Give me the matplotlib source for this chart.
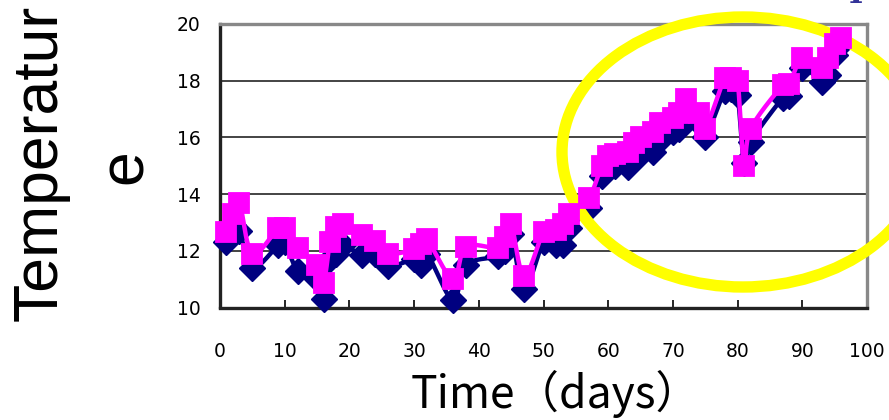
import numpy as np
import matplotlib
matplotlib.use("Agg")
import matplotlib.pyplot as plt
from matplotlib.patches import Ellipse
from matplotlib.transforms import IdentityTransform

# Measurement days and the two temperature series
days = [1, 2, 3, 5, 9, 10, 12, 15, 16, 17, 18, 19, 22, 24, 26, 30, 31, 32,
        36, 38, 43, 44, 45, 47, 50, 52, 53, 54, 57, 59, 60, 61, 63, 64, 65,
        67, 68, 70, 71, 72, 74, 75, 78, 79, 80, 81, 82, 87, 88, 90, 93, 94,
        95, 96]
temp_squares = [12.65, 13.3, 13.7, 11.9, 12.8, 12.8, 12.1, 11.5, 10.85, 12.3,
                12.85, 12.95, 12.55, 12.35, 11.9, 12.05, 12.25, 12.4, 11.0,
                12.15, 12.1, 12.5, 12.95, 11.1, 12.65, 12.75, 12.95, 13.3,
                13.85, 15.0, 15.35, 15.4, 15.5, 15.8, 16.0, 16.2, 16.5, 16.7,
                16.85, 17.35, 16.85, 16.3, 18.1, 18.1, 18.0, 15.0, 16.3, 17.85,
                17.9, 18.8, 18.45, 18.8, 19.3, 19.5]
temp_diamonds = [12.3, 12.9, 12.7, 11.4, 12.2, 12.3, 11.3, 11.0, 10.3, 11.7,
                 11.9, 12.2, 11.85, 11.9, 11.45, 11.7, 11.5, 11.9, 10.25,
                 11.5, 11.8, 12.0, 12.6, 10.65, 12.3, 12.2, 12.2, 12.8, 13.5,
                 14.65, 14.9, 15.0, 14.95, 15.2, 15.4, 15.5, 15.9, 16.2, 16.3,
                 16.6, 16.5, 16.0, 17.65, 17.7, 17.5, 15.1, 15.85, 17.4, 17.45,
                 18.45, 17.95, 18.2, 18.9, 19.3]

x_ticks = [0, 10, 20, 30, 40, 50, 60, 70, 80, 90, 100]
y_ticks = [10, 12, 14, 16, 18, 20]

W, H = 889, 420
fig = plt.figure(figsize=(W / 100, H / 100), dpi=100)
fig.patch.set_facecolor("white")

# plot area in pixel coordinates
left_px, right_px, top_px, bottom_px = 220, 867, 24, 307.5
ax = fig.add_axes([left_px / W, 1 - bottom_px / H,
                   (right_px - left_px) / W, (bottom_px - top_px) / H])
ax.set_xlim(0, 100)
ax.set_ylim(10, 20)


def smooth(xs, ys, n=16):
    """Bezier smoothing through every point (Catmull-Rom style)."""
    sx, sy = (right_px - left_px) / 100.0, (bottom_px - top_px) / 10.0
    P = np.column_stack([np.asarray(xs, float) * sx, np.asarray(ys, float) * sy])
    out = [P[0]]
    for i in range(len(P) - 1):
        p0 = P[i - 1] if i > 0 else P[i]
        p1, p2 = P[i], P[i + 1]
        p3 = P[i + 2] if i + 2 < len(P) else P[i + 1]
        c1 = p1 + (p2 - p0) / 6.0
        c2 = p2 - (p3 - p1) / 6.0
        t = np.linspace(0, 1, n)[1:, None]
        seg = ((1 - t) ** 3) * p1 + 3 * ((1 - t) ** 2) * t * c1 \
            + 3 * (1 - t) * t ** 2 * c2 + t ** 3 * p2
        out.extend(seg)
    out = np.array(out)
    return out[:, 0] / sx, out[:, 1] / sy


navy = "#000080"
magenta = "#FF00FF"

xs, ys = smooth(days, temp_diamonds)
ax.plot(xs, ys, color=navy, lw=3.2, zorder=3, solid_capstyle="round")
ax.plot(days, temp_diamonds, ls="none", marker="D", ms=13, color=navy,
        mec=navy, mew=1, zorder=4, clip_on=False)

xs, ys = smooth(days, temp_squares)
ax.plot(xs, ys, color=magenta, lw=3.2, zorder=5, solid_capstyle="round")
ax.plot(days, temp_squares, ls="none", marker="s", ms=15, color=magenta,
        mec=magenta, mew=1.3, zorder=6, clip_on=False)

# grid and frame
for yv in y_ticks[1:-1]:
    ax.axhline(yv, color="#111111", lw=1.1, zorder=1)
ax.set_xticks(x_ticks)
ax.set_yticks(y_ticks)
ax.tick_params(axis="x", direction="in", length=6, width=1.2, pad=25,
               labelsize=13.5, colors="black")
ax.tick_params(axis="y", length=0, pad=14, labelsize=13.5)
for lab in ax.get_xticklabels() + ax.get_yticklabels():
    lab.set_family("DejaVu Sans")
for side in ("top", "right"):
    ax.spines[side].set_color("#888888")
    ax.spines[side].set_linewidth(2.4)
for side in ("left", "bottom"):
    ax.spines[side].set_color("#222222")
    ax.spines[side].set_linewidth(2.4)

# highlight ring around the late warming period
ring = Ellipse((743, H - 152), 2 * 181, 2 * 135, fill=False,
               edgecolor="#FFFF00", lw=8.2, transform=IdentityTransform(),
               clip_on=False, zorder=5.5)
ax.add_patch(ring)

# axis titles
fig.text(11 / W, 1 - 163 / H, "Temperatur", rotation=90, ha="left",
         va="center", fontsize=45, family="Liberation Sans")
fig.text(96 / W, 1 - 167 / H, "e", rotation=90, ha="left", va="center",
         fontsize=45, family="Liberation Sans")
fig.text(556 / W, 1 - 408 / H, "Time（days）", ha="center", va="baseline",
         fontsize=32, family=["Noto Sans CJK JP", "DejaVu Sans"])

# fragment of a heading above the frame
fig.text(856 / W, 1 - 3 / H, "I", ha="center", va="baseline", fontsize=22,
         family="DejaVu Serif", weight="bold", color="#333399")

fig.savefig("out.png", dpi=100, facecolor="white")
